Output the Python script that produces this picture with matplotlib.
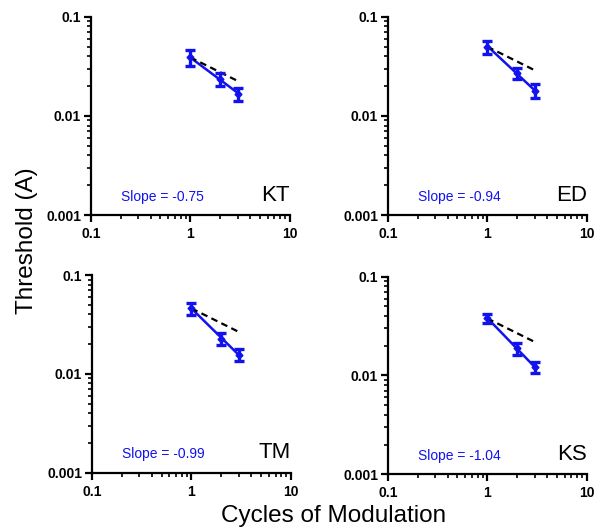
import numpy as np
import matplotlib
matplotlib.use("Agg")
import matplotlib.pyplot as plt
from matplotlib.ticker import LogLocator, FixedLocator, FixedFormatter, NullFormatter

plt.rcParams['font.family'] = ['Liberation Sans', 'DejaVu Sans']

cycles = [1, 2, 3]
subjects = ['KT', 'ED', 'TM', 'KS']
slopes = [-0.75, -0.94, -0.99, -1.04]
thr_kt = [0.039, 0.0236, 0.0167]
err_kt = [0.007, 0.0035, 0.0025]
thr_ed = [0.050, 0.027, 0.018]
err_ed = [0.0075, 0.0035, 0.0028]
thr_tm = [0.046, 0.0228, 0.0157]
err_tm = [0.0068, 0.0031, 0.0023]
thr_ks = [0.0378, 0.0188, 0.0121]
err_ks = [0.004, 0.0027, 0.0015]
ref_slope = -0.5

thresholds = [thr_kt, thr_ed, thr_tm, thr_ks]
errors = [err_kt, err_ed, err_tm, err_ks]

blue = '#1212ee'

fig = plt.figure(figsize=(6.05, 5.27), dpi=100)
positions = [
    [0.150, 0.592, 0.329, 0.376],
    [0.641, 0.592, 0.329, 0.376],
    [0.152, 0.103, 0.329, 0.375],
    [0.641, 0.100, 0.329, 0.375],
]

for pos, name, s, y, e in zip(positions, subjects, slopes, thresholds, errors):
    ax = fig.add_axes(pos)
    x = np.array(cycles, dtype=float)
    y = np.array(y)
    # fitted line with reported slope
    logA = np.mean(np.log10(y) - s * np.log10(x))
    xf = np.array([1.0, 3.0])
    ax.plot(xf, 10 ** logA * xf ** s, color=blue, lw=1.8, zorder=2)
    # reference slope from first point
    ax.plot(xf, y[0] * xf ** ref_slope, color='black', lw=1.6, ls=(0, (3, 2)), zorder=3)
    ax.errorbar(x, y, yerr=e, fmt='D', color=blue, ms=3.5, elinewidth=2.4,
                capsize=3.5, capthick=2.4, zorder=4)
    ax.set_xscale('log')
    ax.set_yscale('log')
    ax.set_xlim(0.1, 10)
    ax.set_ylim(0.001, 0.1)
    ax.spines['top'].set_visible(False)
    ax.spines['right'].set_visible(False)
    for sp in ['left', 'bottom']:
        ax.spines[sp].set_linewidth(1.6)
    ax.xaxis.set_major_locator(FixedLocator([0.1, 1, 10]))
    ax.xaxis.set_major_formatter(FixedFormatter(['0.1', '1', '10']))
    ax.yaxis.set_major_locator(FixedLocator([0.001, 0.01, 0.1]))
    ax.yaxis.set_major_formatter(FixedFormatter(['0.001', '0.01', '0.1']))
    ax.xaxis.set_minor_locator(LogLocator(base=10, subs=np.arange(2, 10)))
    ax.yaxis.set_minor_locator(LogLocator(base=10, subs=np.arange(2, 10)))
    ax.xaxis.set_minor_formatter(NullFormatter())
    ax.yaxis.set_minor_formatter(NullFormatter())
    ax.tick_params(which='major', length=5, width=1.6, labelsize=10)
    ax.tick_params(axis='y', which='major', pad=2)
    ax.tick_params(axis='x', which='major', pad=3.5)
    ax.tick_params(which='minor', length=3, width=1.2)
    for lab in ax.get_xticklabels() + ax.get_yticklabels():
        lab.set_fontweight('bold')
    ax.text(1.0, 0.072, name, transform=ax.transAxes, ha='right', va='baseline',
            fontsize=16)
    ax.text(0.15, 0.072, 'Slope = %.2f' % s, transform=ax.transAxes, ha='left',
            va='baseline', fontsize=10, color=blue)

fig.text(0.044, 0.543, 'Threshold (A)', rotation=90, ha='center', va='center', fontsize=17.5)
fig.text(0.551, 0.009, 'Cycles of Modulation', ha='center', va='baseline', fontsize=17.5)

fig.savefig('out.png', dpi=100)
